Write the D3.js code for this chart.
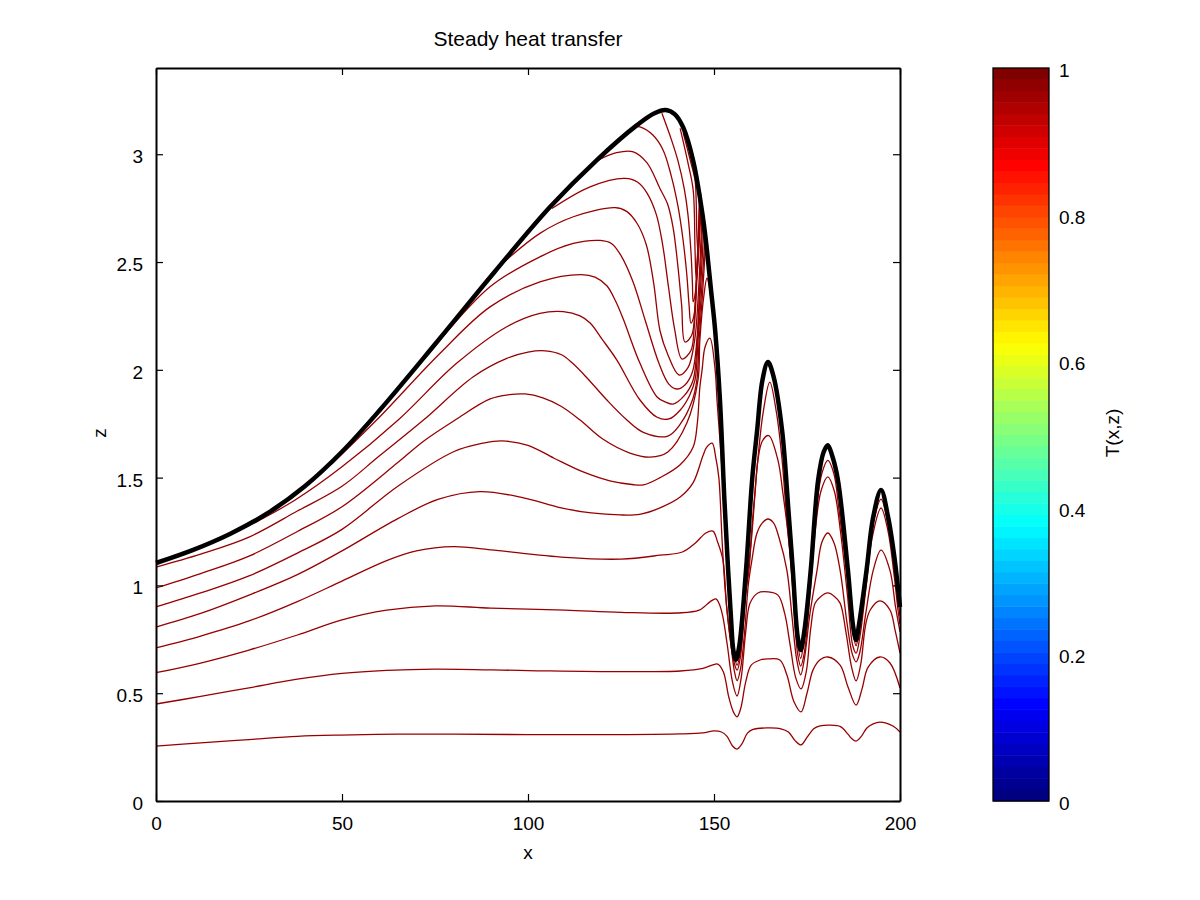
<!DOCTYPE html>
<html>
<head>
<meta charset="utf-8">
<script src="https://d3js.org/d3.v7.min.js"></script>
<style>
body { margin: 0; background: #fff; }
text { font-family: "Liberation Sans", sans-serif; fill: #000; }
</style>
</head>
<body>
<svg width="1200" height="900"></svg>
<script>
// values, as [x, z]
var surface = [[0,1.104],[10,1.165],[20,1.24],[30,1.335],[40,1.46],[50,1.62],[60,1.81],[75.5,2.129],[91,2.454],[105.9,2.755],[118.5,2.973],[129.3,3.135],[134,3.19],[137,3.205],[139.5,3.185],[141.7,3.125],[144.4,2.97],[147,2.71],[148.1,2.555],[149.2,2.37],[150.3,2.185],[151.6,1.86],[152.8,1.396],[153.8,1.07],[154.6,.84],[155.2,.7],[155.9,.655],[156.8,.72],[158.6,1.07],[160.3,1.5],[161.6,1.72],[163,1.95],[164.5,2.036],[166,1.97],[168.3,1.72],[170,1.35],[171.2,1.07],[172.5,.76],[173.3,.7],[174.3,.79],[176,1.07],[178,1.49],[179.5,1.62],[180.6,1.65],[181.8,1.6],[183.3,1.49],[186,1.07],[187.4,.81],[188.2,.747],[189,.82],[191,1.07],[192.8,1.317],[194.9,1.443],[196.8,1.317],[198.5,1.13],[199.5,.98],[200,.9]]

var t01 = [[0,.255],[12,.27],[25,.285],[38,.3],[49.5,.306],[65,.31],[80,.31],[100,.308],[125,.308],[141,.311],[147,.316],[150,.325],[152,.32],[153.5,.3],[155,.255],[156.2,.241],[157.5,.265],[159,.315],[160.5,.332],[164.3,.339],[168,.335],[170,.32],[171.8,.28],[173.4,.26],[175,.295],[176.8,.335],[178.5,.348],[181.2,.352],[184,.345],[186,.31],[187,.29],[188.2,.278],[189.6,.3],[191.1,.339],[192.8,.358],[194.6,.366],[198.1,.348],[200,.32]]
var t02 = [[0,.45],[12,.485],[25,.525],[38,.565],[50,.592],[62,.606],[75,.612],[100,.605],[125,.6],[140.9,.603],[147,.615],[149.5,.63],[151,.635],[152.5,.6],[154,.48],[155.3,.41],[156.2,.39],[157.2,.43],[158.5,.55],[160,.63],[162.4,.654],[164.5,.659],[167.7,.654],[169.6,.584],[171.5,.46],[173.4,.413],[175,.5],[176.6,.607],[178.5,.655],[180.6,.668],[183.9,.63],[186,.53],[188.2,.445],[189.8,.52],[191.4,.62],[194.6,.668],[197.3,.64],[200,.524]]
var t03 = [[0,.595],[12,.64],[25,.7],[38,.77],[50,.84],[62,.885],[75,.905],[90,.895],[110,.885],[125,.875],[140,.872],[146,.885],[149,.925],[150.5,.937],[151.5,.91],[152.4,.853],[153.6,.72],[155,.55],[156.2,.487],[157.3,.57],[158.5,.78],[159.7,.918],[161.8,.965],[164.5,.97],[167.2,.955],[169,.87],[170.5,.72],[172,.57],[173.4,.52],[174.8,.6],[176,.8],[177.2,.918],[178.8,.95],[180.6,.965],[182.3,.95],[183.9,.918],[185.5,.78],[187,.62],[188.2,.557],[189.4,.63],[190.8,.82],[192,.886],[194.6,.928],[197.3,.886],[198.7,.79],[200,.686]]
var t04 = [[0,.71],[12,.765],[25,.835],[38,.925],[50,1.02],[62,1.115],[70,1.16],[80,1.18],[90,1.165],[110,1.13],[125,1.122],[135.5,1.14],[141.5,1.155],[145,1.197],[147.8,1.243],[149.7,1.252],[151,1.2],[152.4,1.118],[153.4,.9],[154.6,.72],[155.5,.6],[156.2,.558],[157.2,.62],[158.3,.8],[159.2,1],[160.2,1.118],[161.5,1.24],[163,1.29],[164.5,1.308],[166,1.29],[167.5,1.22],[169.6,1.07],[171,.85],[172.2,.66],[173.3,.585],[174.3,.66],[175.8,.87],[177.7,1.07],[179,1.2],[180.6,1.243],[182.2,1.2],[183.9,1.07],[185.8,.82],[187.2,.68],[188.2,.645],[189.2,.69],[190.8,.87],[192.8,1.07],[194.9,1.164],[197.3,1.07],[198.8,.9],[200,.785]]
var t05 = [[0,.807],[12,.87],[25,.955],[38,1.05],[50,1.16],[65,1.31],[76,1.4],[87,1.435],[98,1.41],[108.9,1.36],[117,1.336],[124.7,1.327],[130,1.33],[135.5,1.36],[140.9,1.41],[144.4,1.477],[147,1.6],[148,1.64],[149.5,1.66],[150.5,1.59],[151.3,1.5],[152.2,1.2],[153,.98],[154.3,.76],[155.3,.65],[156.2,.607],[157.2,.68],[158.4,.95],[159.4,1.07],[160.2,1.27],[161,1.428],[161.8,1.58],[163,1.67],[164.7,1.695],[167.2,1.58],[168.5,1.43],[169.9,1.24],[171.2,.98],[172.5,.68],[173.3,.626],[174.3,.69],[175.8,.96],[177.2,1.25],[178.8,1.44],[180.6,1.503],[182.3,1.44],[184,1.25],[185.9,.95],[187.3,.72],[188.2,.686],[189.2,.76],[190.8,.98],[192.5,1.22],[194.9,1.359],[196.8,1.25],[198.4,1.05],[199.5,.88],[200,.82]]
var t06 = [[0,.9],[12,.965],[25,1.044],[38,1.15],[50,1.26],[65,1.46],[80,1.62],[88,1.66],[93,1.67],[100,1.65],[107,1.59],[115,1.525],[122,1.485],[128,1.468],[131,1.466],[135.5,1.5],[140.9,1.56],[144.4,1.642],[145.5,1.75],[146.2,1.92],[146.8,2],[147.6,2.106],[148.9,2.147],[150.3,2],[150.8,1.86],[151.9,1.6],[152.8,1.35],[153.6,1.07],[154.5,.82],[155.4,.68],[156.2,.63],[157.3,.72],[158.6,.98],[160,1.2],[161.6,1.55],[163.2,1.8],[165,1.943],[166.8,1.8],[168.2,1.6],[169.6,1.3],[171,1.05],[172.2,.78],[173.3,.661],[174.2,.75],[175.9,1.05],[177.5,1.35],[179,1.52],[180.6,1.58],[182.2,1.52],[183.6,1.35],[185.7,1.05],[187.2,.8],[188.2,.72],[189,.8],[190.9,1.05],[192.7,1.28],[194.9,1.4],[196.8,1.28],[198.5,1.08],[199.5,.93],[200,.86]]
var t07 = [[0,.988],[12,1.055],[25,1.136],[38,1.25],[50,1.365],[65,1.57],[72,1.67],[80.4,1.767],[89.8,1.865],[95,1.885],[99.2,1.888],[104,1.87],[109,1.83],[114,1.767],[120,1.68],[127.4,1.614],[132.8,1.595],[137.6,1.619],[142.7,1.753],[145.7,1.953],[146.2,2.138],[147.3,2.347],[148.1,2.425],[148.7,2.39],[149.2,2.32]]
var t08 = [[0,1.085],[12,1.145],[25,1.224],[38,1.345],[50,1.46],[60,1.6],[71.9,1.767],[85.3,1.968],[94.3,2.053],[100,2.082],[104.6,2.088],[109,2.07],[112,2.03],[116,1.96],[121.2,1.86],[126.6,1.767],[131,1.71],[137.6,1.693],[141,1.75],[144.2,1.86],[145.4,1.953],[146,2.138],[146.8,2.324],[147.8,2.6]]
var t09 = [[20,1.235],[27,1.295],[37.4,1.396],[50,1.55],[65.1,1.767],[80.8,2.03],[94.3,2.2],[103.2,2.262],[109.5,2.27],[114,2.25],[116.7,2.217],[120,2.14],[123.9,2.045],[130.1,1.86],[134.7,1.78],[137.9,1.772],[141,1.815],[143.4,1.88],[144.9,1.953],[145.7,2.138],[146.5,2.324],[147.6,2.62]]
var t10 = [[47,1.56],[59.3,1.767],[76.3,2.076],[89.8,2.292],[103.2,2.408],[114.4,2.442],[118,2.43],[121.2,2.39],[123.5,2.32],[125.5,2.24],[130.1,2.03],[134.7,1.874],[137,1.85],[139,1.841],[142,1.88],[144.4,1.953],[145.5,2.138],[146.2,2.324],[147.3,2.67]]
var t11 = [[75.9,2.13],[89.8,2.385],[103.2,2.524],[112.2,2.586],[119.4,2.6],[122.5,2.585],[125,2.53],[128.2,2.41],[131.5,2.23],[135.2,2.03],[137.8,1.935],[140,1.911],[142.2,1.93],[144.2,1.99],[145.4,2.138],[146,2.324],[147,2.7]]
var t12 = [[91.6,2.47],[103.2,2.633],[112.2,2.71],[123.4,2.752],[126.5,2.735],[129.3,2.68],[131.8,2.58],[133.8,2.4],[135.5,2.18],[137.6,2.07],[140.6,1.976],[143,2.01],[144.8,2.138],[145.7,2.324],[146.8,2.73]]
var t13 = [[106.4,2.748],[116.7,2.849],[126.1,2.888],[129.5,2.87],[132,2.82],[134.5,2.72],[136.2,2.58],[137.8,2.38],[139.4,2.19],[141.4,2.05],[143.8,2.09],[144.7,2.2],[145.5,2.45],[146.6,2.76]]
var t14 = [[118.9,2.973],[123.8,3.007],[128.3,3.011],[132,2.96],[135.5,2.84],[137.5,2.77],[139,2.66],[140.3,2.48],[141.3,2.3],[142.2,2.129],[144,2.16],[144.9,2.3],[145.5,2.5],[146.5,2.79]]
var t15 = [[128.8,3.127],[130.1,3.127],[133.5,3.09],[136.3,3.02],[138.5,2.9],[140.3,2.76],[141.7,2.6],[142.7,2.44],[143.3,2.3],[143.8,2.217],[144.6,2.25],[145.3,2.42],[146.3,2.81]]
var t16 = [[136,3.19],[138.5,3.07],[140.3,2.97],[142,2.84],[143,2.72],[143.8,2.55],[144.2,2.4],[144.4,2.315],[145,2.36],[145.6,2.55],[146.2,2.83]]
var t17 = [[140.9,3.12],[143,2.96],[144.4,2.834],[144.9,2.556],[145.2,2.426],[145.7,2.5],[146.1,2.84]]
var t18 = [[141.7,3.1],[143.5,2.98],[144.9,2.88],[145.2,2.79],[145.4,2.625],[145.7,2.542],[146,2.62],[146.4,2.82]]
var contours = [t01,t02,t03,t04,t05,t06,t07,t08,t09,t10,t11,t12,t13,t14,t15,t16,t17,t18]

var xTicks = [0,50,100,150,200]
var zTicks = [0,.5,1,1.5,2,2.5,3]
var barTicks = [0,.2,.4,.6,.8,1]
var jetStops = [0,.125,.375,.625,.875,1]
var jetColors = ["#000080","#0000ff","#00ffff","#ffff00","#ff0000","#800000"]
var barLevels = 64

const svg = d3.select("svg")

const x = d3.scaleLinear().domain([0,200]).range([156,900])
const z = d3.scaleLinear().domain([0,3.4]).range([801,68])
const t = d3.scaleLinear().domain([0,1]).range([801,68])
const jet = d3.scaleLinear().domain(jetStops).range(jetColors).interpolate(d3.interpolateRgb)

const line = d3.line()
	.x(d => x(d[0]))
	.y(d => z(d[1]))
	.curve(d3.curveCatmullRom.alpha(0.5))

// contour lines first, surface goes on top
svg.append("g").selectAll("path")
	.data(contours)
	.join("path")
	.attr("d", line)
	.attr("fill", "none")
	.attr("stroke", "#960000")
	.attr("stroke-width", 1.3)

svg.append("path")
	.attr("d", line(surface))
	.attr("fill", "none")
	.attr("stroke", "#000")
	.attr("stroke-width", 4.5)

// axes: inward ticks on all four sides
function styleAxis(g) {
	g.select(".domain").attr("stroke", "#000").attr("stroke-width", 2)
	g.selectAll(".tick line").attr("stroke", "#000").attr("stroke-width", 1.2)
	g.selectAll("text").style("font-size", "19px").attr("fill", "#000")
}
svg.append("g").attr("transform", "translate(0,801)")
	.call(d3.axisBottom(x).tickValues(xTicks).tickFormat(d3.format("d")).tickSizeInner(-7).tickSizeOuter(0).tickPadding(16))
	.call(styleAxis)
svg.append("g").attr("transform", "translate(0,68)")
	.call(d3.axisTop(x).tickValues(xTicks).tickFormat("").tickSizeInner(-7).tickSizeOuter(0))
	.call(styleAxis)
svg.append("g").attr("transform", "translate(156,0)")
	.call(d3.axisLeft(z).tickValues(zTicks).tickFormat(d3.format("")).tickSizeInner(-7).tickSizeOuter(0).tickPadding(13))
	.call(styleAxis)
	.call(g => g.selectAll(".tick text").attr("dy", ".45em"))
svg.append("g").attr("transform", "translate(900,0)")
	.call(d3.axisRight(z).tickValues(zTicks).tickFormat("").tickSizeInner(-7).tickSizeOuter(0))
	.call(styleAxis)

svg.append("text").attr("x", 528).attr("y", 46).attr("text-anchor", "middle")
	.style("font-size", "21px").text("Steady heat transfer")
svg.append("text").attr("x", 528).attr("y", 859).attr("text-anchor", "middle")
	.style("font-size", "19px").text("x")
svg.append("text").attr("transform", "translate(106,433) rotate(-90)").attr("text-anchor", "middle")
	.style("font-size", "19px").text("z")

// colour bar
const bandH = (t(0) - t(1)) / barLevels
svg.append("g").selectAll("rect")
	.data(d3.range(barLevels))
	.join("rect")
	.attr("x", 993)
	.attr("width", 56)
	.attr("y", d => t((d + 1) / barLevels))
	.attr("height", bandH + .5)
	.attr("fill", d => jet(d / (barLevels - 1)))
svg.append("rect").attr("x", 993).attr("y", 68).attr("width", 56).attr("height", 733)
	.attr("fill", "none").attr("stroke", "#000").attr("stroke-width", 1.3)

svg.append("g").selectAll("text")
	.data(barTicks)
	.join("text")
	.attr("x", 1059)
	.attr("y", d => t(d) + 9)
	.style("font-size", "19px")
	.text(d => d)

svg.append("text").attr("transform", "translate(1119,433) rotate(-90)").attr("text-anchor", "middle")
	.style("font-size", "19px").text("T(x,z)")
</script>
</body>
</html>
